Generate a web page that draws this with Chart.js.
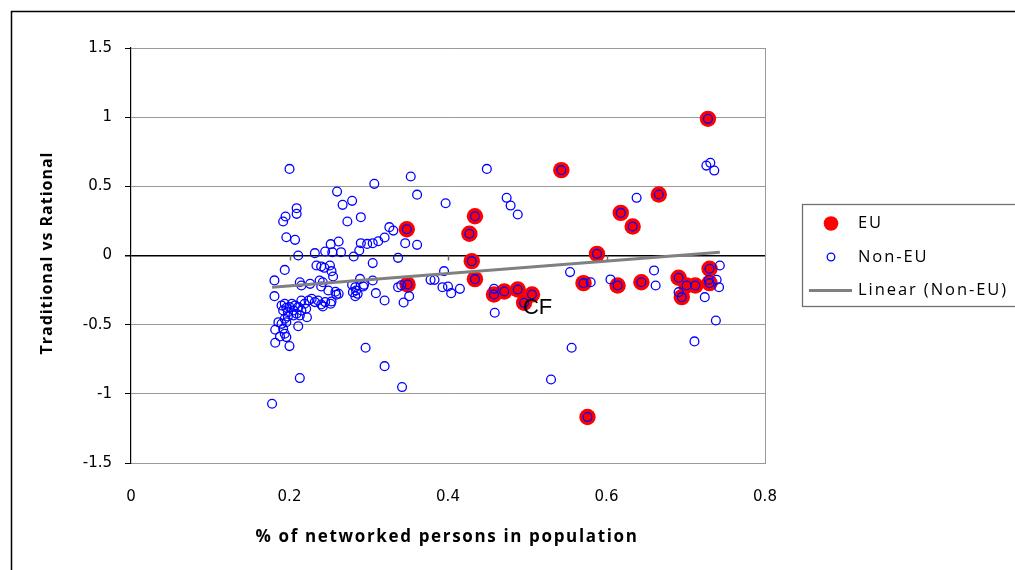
<!DOCTYPE html>
<html>
<head>
<meta charset="utf-8">
<title>Traditional vs Rational</title>
<script src="https://cdn.jsdelivr.net/npm/chart.js@4.4.1/dist/chart.umd.min.js"></script>
<style>
  html, body { margin: 0; padding: 0; background: #fff; }
  #wrap { width: 1015px; height: 570px; }
</style>
</head>
<body>
<div id="wrap"><canvas id="chart" width="1015" height="570"></canvas></div>
<script>
// Non-EU countries: share of networked persons (x) vs traditional/rational score (y)
const nonEuX = [
  0.200, 0.353, 0.307, 0.361, 0.260, 0.279, 0.267, 0.209, 0.209, 0.195, 0.192, 0.273, 0.290, 0.326, 0.331,
  0.196, 0.207, 0.262, 0.252, 0.290, 0.298, 0.305, 0.312, 0.320, 0.346, 0.361, 0.449, 0.397, 0.474, 0.479,
  0.488, 0.726, 0.731, 0.736, 0.638,
  0.232, 0.245, 0.254, 0.265, 0.211, 0.288, 0.281, 0.337, 0.305, 0.234, 0.240, 0.244, 0.251, 0.253, 0.255,
  0.194, 0.181, 0.289, 0.305, 0.337, 0.341, 0.378, 0.395, 0.383, 0.393, 0.400, 0.404, 0.415, 0.458, 0.459,
  0.530, 0.554, 0.580, 0.605, 0.660, 0.662, 0.743, 0.729, 0.739, 0.742, 0.691, 0.724, 0.738, 0.711, 0.556,
  0.351, 0.344, 0.320, 0.309,
  0.181, 0.249, 0.262, 0.258, 0.259, 0.284, 0.286, 0.283, 0.213, 0.215, 0.226, 0.238, 0.242, 0.240, 0.279,
  0.283, 0.293, 0.294, 0.280,
  0.190, 0.192, 0.194, 0.196, 0.198, 0.200, 0.203, 0.205, 0.207, 0.209, 0.205, 0.198, 0.194, 0.190, 0.186,
  0.196, 0.192, 0.194, 0.196, 0.188, 0.215, 0.219, 0.224, 0.228, 0.232, 0.236, 0.240, 0.242, 0.245, 0.253,
  0.221, 0.215, 0.213, 0.211, 0.222, 0.252, 0.211, 0.182, 0.182, 0.200, 0.296, 0.320, 0.213, 0.342, 0.178
];
const nonEuY = [
  0.626, 0.571, 0.518, 0.440, 0.462, 0.395, 0.366, 0.342, 0.301, 0.282, 0.246, 0.246, 0.277, 0.205, 0.180,
  0.132, 0.113, 0.101, 0.082, 0.089, 0.084, 0.089, 0.103, 0.130, 0.089, 0.077, 0.626, 0.378, 0.417, 0.361,
  0.296, 0.650, 0.670, 0.614, 0.417,
  0.017, 0.029, 0.024, 0.024, 0.000, 0.036, -0.007, -0.017, -0.055, -0.072, -0.079, -0.089, -0.072, -0.113, -0.152,
  -0.104, -0.180, -0.169, -0.181, -0.229, -0.215, -0.176, -0.113, -0.176, -0.229, -0.224, -0.272, -0.241, -0.241, -0.414,
  -0.896, -0.120, -0.193, -0.173, -0.108, -0.217, -0.072, -0.175, -0.175, -0.229, -0.265, -0.301, -0.470, -0.621, -0.667,
  -0.294, -0.340, -0.325, -0.272,
  -0.294, -0.253, -0.277, -0.262, -0.284, -0.253, -0.277, -0.294, -0.193, -0.217, -0.205, -0.181, -0.193, -0.224, -0.212,
  -0.229, -0.224, -0.212, -0.265,
  -0.361, -0.397, -0.349, -0.378, -0.410, -0.373, -0.349, -0.397, -0.361, -0.421, -0.434, -0.441, -0.457, -0.494, -0.482,
  -0.482, -0.530, -0.566, -0.590, -0.585, -0.325, -0.349, -0.325, -0.313, -0.337, -0.325, -0.354, -0.368, -0.337, -0.332,
  -0.385, -0.397, -0.434, -0.373, -0.446, -0.349, -0.511, -0.537, -0.631, -0.655, -0.667, -0.800, -0.886, -0.951, -1.072
];

// EU member states
const euX = [0.348, 0.349, 0.434, 0.427, 0.430, 0.434, 0.458, 0.471, 0.488, 0.506, 0.496, 0.543, 0.571, 0.576,
  0.588, 0.614, 0.618, 0.633, 0.644, 0.666, 0.691, 0.695, 0.701, 0.712, 0.728, 0.730, 0.730];
const euY = [0.190, -0.210, 0.284, 0.157, -0.041, -0.171, -0.282, -0.260, -0.246, -0.282, -0.342, 0.617, -0.200, -1.168,
  0.012, -0.217, 0.308, 0.210, -0.193, 0.441, -0.161, -0.301, -0.217, -0.217, 0.988, -0.096, -0.200];

// linear trend of the Non-EU series, start and end
const trendX = [0.178, 0.743];
const trendY = [-0.229, 0.024];

// axis ticks
const xTicks = [0, 0.2, 0.4, 0.6, 0.8];
const yTicks = [-1.5, -1, -0.5, 0, 0.5, 1, 1.5];

// text notes placed in data coordinates
const noteText = ['CF'];
const noteX = [0.513];
const noteY = [-0.376];

const xTitle = '% of networked persons in population';
const yTitle = 'Traditional vs Rational';

const toPoints = (xs, ys) => xs.map((x, i) => ({ x, y: ys[i] }));

// every country gets a hollow blue ring; EU members also get a red disc underneath
const allX = nonEuX.concat(euX);
const allY = nonEuY.concat(euY);

const GRID = '#9a9a9a';

// spreads the letters of a string so it spans the given width
function fitText(ctx, text, width) {
  ctx.letterSpacing = '0px';
  const natural = ctx.measureText(text).width;
  const sp = (width - natural) / text.length;
  ctx.letterSpacing = sp.toFixed(2) + 'px';
}

const framePlugin = {
  id: 'frame',
  beforeDatasetsDraw(chart) {
    const { ctx, scales } = chart;
    const y0 = scales.y.getPixelForValue(0);
    ctx.save();
    // small tick marks on the zero line
    ctx.strokeStyle = '#6a6a6a';
    ctx.lineWidth = 1.5;
    xTicks.slice(1, -1).forEach(v => {
      const px = Math.round(scales.x.getPixelForValue(v)) + 0.5;
      ctx.beginPath();
      ctx.moveTo(px, y0);
      ctx.lineTo(px, y0 + 5);
      ctx.stroke();
    });
    ctx.restore();
  },
  afterDraw(chart) {
    const { ctx, chartArea, scales } = chart;
    ctx.save();

    // outer frame
    ctx.strokeStyle = '#000';
    ctx.lineWidth = 1.5;
    ctx.strokeRect(11.5, 11.5, 1100, 700);

    // notes
    ctx.fillStyle = '#000';
    ctx.font = '22px "Liberation Sans", Arial, sans-serif';
    ctx.textAlign = 'center';
    ctx.textBaseline = 'middle';
    noteText.forEach((t, i) => {
      ctx.fillText(t, scales.x.getPixelForValue(noteX[i]), scales.y.getPixelForValue(noteY[i]));
    });

    // axis titles
    ctx.font = 'bold 17px "Open Sans", sans-serif';
    ctx.textAlign = 'left';
    ctx.textBaseline = 'middle';
    const xw = 383;
    fitText(ctx, xTitle, xw);
    ctx.fillText(xTitle, 447 - xw / 2, 537);

    const yw = 203;
    ctx.save();
    ctx.translate(47, 253);
    ctx.rotate(-Math.PI / 2);
    ctx.font = 'bold 16px "Open Sans", sans-serif';
    fitText(ctx, yTitle, yw);
    ctx.fillText(yTitle, -yw / 2, 0);
    ctx.restore();
    ctx.letterSpacing = '0px';

    // legend
    const lx = chartArea.right + 37;
    const midY = (chartArea.top + chartArea.bottom) / 2;
    ctx.strokeStyle = '#707070';
    ctx.lineWidth = 1.3;
    ctx.strokeRect(lx + 0.5, midY - 51, 300, 102);

    const items = [chart.data.datasets[2], chart.data.datasets[1], chart.data.datasets[0]];
    ctx.font = '16.5px "Open Sans", sans-serif';
    ctx.textAlign = 'left';
    ctx.textBaseline = 'middle';
    fitText(ctx, items[2].label, 150);
    items.forEach((ds, i) => {
      const cy = midY - 32 + i * 33.5;
      const cx = lx + 29;
      if (ds.type === 'line') {
        ctx.strokeStyle = ds.borderColor;
        ctx.lineWidth = 3;
        ctx.beginPath();
        ctx.moveTo(lx + 7, cy);
        ctx.lineTo(lx + 50, cy);
        ctx.stroke();
      } else if (ds.label === 'EU') {
        ctx.fillStyle = ds.backgroundColor;
        ctx.beginPath();
        ctx.arc(cx, cy, 7.3, 0, Math.PI * 2);
        ctx.fill();
      } else {
        ctx.strokeStyle = ds.borderColor;
        ctx.lineWidth = 1.3;
        ctx.beginPath();
        ctx.arc(cx, cy, 3.8, 0, Math.PI * 2);
        ctx.stroke();
      }
      ctx.fillStyle = '#000';
      ctx.fillText(ds.label, lx + 56, cy);
    });
    ctx.restore();
  }
};

new Chart(document.getElementById('chart'), {
  type: 'scatter',
  data: {
    datasets: [
      {
        type: 'line',
        label: 'Linear (Non-EU)',
        data: toPoints(trendX, trendY),
        borderColor: '#808080',
        borderWidth: 3,
        pointRadius: 0,
        fill: false,
        order: 0
      },
      {
        label: 'Non-EU',
        data: toPoints(allX, allY),
        pointRadius: 4.4,
        pointBorderWidth: 1.3,
        borderColor: '#0000ff',
        backgroundColor: 'rgba(0,0,0,0)',
        order: 1
      },
      {
        label: 'EU',
        data: toPoints(euX, euY),
        pointRadius: 8.2,
        pointBorderWidth: 0,
        borderColor: '#ff0000',
        backgroundColor: '#ff0000',
        order: 2
      }
    ]
  },
  options: {
    responsive: false,
    animation: false,
    events: [],
    layout: { padding: { top: 48, right: 250, left: 0, bottom: 0 } },
    plugins: { legend: { display: false }, tooltip: { enabled: false } },
    scales: {
      x: {
        type: 'linear',
        min: xTicks[0],
        max: xTicks[xTicks.length - 1],
        afterBuildTicks: s => { s.ticks = xTicks.map(v => ({ value: v })); },
        afterFit: s => { s.height = 107; },
        grid: {
          drawTicks: false,
          color: c => (c.tick && c.tick.value === 0.8 ? GRID : 'rgba(0,0,0,0)'),
          lineWidth: 1
        },
        border: { display: true, color: GRID, width: 1 },
        ticks: {
          padding: 25,
          color: '#000',
          font: { family: '"DejaVu Sans", Verdana, sans-serif', size: 15 },
          callback: v => String(v)
        }
      },
      y: {
        type: 'linear',
        min: yTicks[0],
        max: yTicks[yTicks.length - 1],
        afterBuildTicks: s => { s.ticks = yTicks.map(v => ({ value: v })); },
        afterFit: s => { s.width = 131; },
        grid: {
          color: c => (c.tick && c.tick.value === 0 ? '#000' : GRID),
          lineWidth: c => (c.tick && c.tick.value === 0 ? 1.5 : 1),
          tickColor: '#000',
          tickLength: 6
        },
        border: { display: true, color: '#000', width: 1.2 },
        ticks: {
          padding: 13,
          color: '#000',
          font: { family: '"DejaVu Sans", Verdana, sans-serif', size: 15 },
          callback: v => String(v)
        }
      }
    }
  },
  plugins: [framePlugin]
});
</script>
</body>
</html>
